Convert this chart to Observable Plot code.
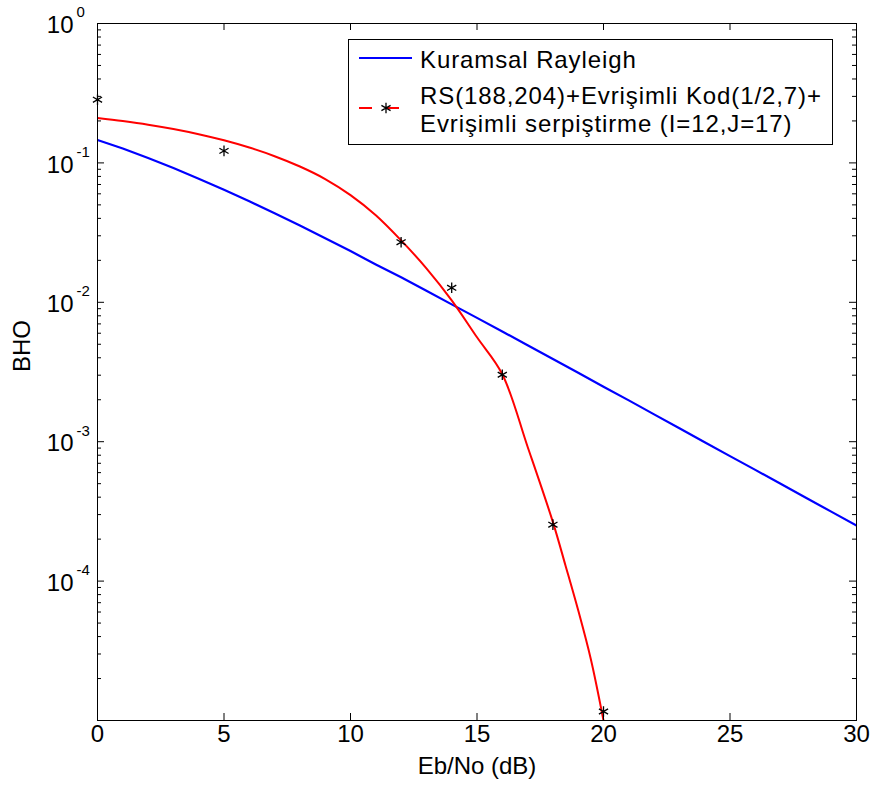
<!DOCTYPE html>
<html>
<head>
<meta charset="utf-8">
<script src="https://cdn.jsdelivr.net/npm/d3@7"></script>
<script src="https://cdn.jsdelivr.net/npm/@observablehq/plot@0.6"></script>
<style>
  html, body { margin: 0; padding: 0; background: #fff; }
  #chart { width: 874px; height: 794px; }
</style>
</head>
<body>
<div id="chart"></div>
<script>
// ---- data ----
const rayleighX = [0,1,2,3,4,5,6,7,8,9,10,11,12,13,14,15,16,17,18,19,20,21,22,23,24,25,26,27,28,29,30];
const rayleighY = [0.146,0.127,0.1085,0.0919,0.0771,0.0642,0.053,0.0435,0.0355,0.0288,0.0233,0.0187,0.0151,0.0121,0.00966,0.00773,0.00617,0.00492,0.00392,0.00312,0.00248,0.00198,0.00157,0.00125,0.000992,0.000788,0.000628,0.000499,0.000396,0.000315,0.00025];

const fitX = [0,1,2,3,4,5,6,7,8,9,10,11,12,13,14,15,16,17,18,18.5,19,19.5,20];
const fitY = [0.21,0.1995,0.188,0.175,0.1607,0.1452,0.1288,0.1117,0.0942,0.0766,0.0587,0.0421,0.0278,0.01754,0.01033,0.00561,0.00305,0.00092,0.000265,0.000129,0.0000617,0.0000275,0.00001];

const simX = [0,5,12,14,16,18,20];
const simY = [0.284,0.122,0.027,0.0127,0.00302,0.000254,0.0000116];

const xTicks = [0,5,10,15,20,25,30];
const yMajor = [1,0.1,0.01,0.001,0.0001,0.00001];
const yLabels = [1,0.1,0.01,0.001,0.0001];
const yExponents = ["0","-1","-2","-3","-4"];
const yMinor = [];
for (const e of [-5,-4,-3,-2,-1]) for (let m = 2; m <= 9; m++) yMinor.push(m * Math.pow(10, e));

const legendLabels = ["Kuramsal Rayleigh", "RS(188,204)+Evrişimli Kod(1/2,7)+", "Evrişimli serpiştirme (I=12,J=17)"];
const xLabel = "Eb/No (dB)";
const yLabel = "BHO";

// ---- tables ----
const rayleigh = rayleighX.map((x, i) => ({x, y: rayleighY[i]}));
const fit = fitX.map((x, i) => ({x, y: fitY[i]}));
const sim = simX.map((x, i) => ({x, y: simY[i]}));
const yLab = yLabels.map((v, i) => ({v, e: yExponents[i]}));

const W = 874, H = 794, mL = 97, mR = 18, mT = 23, mB = 74;
const pw = W - mL - mR, ph = H - mT - mB;
const FONT = "'Liberation Sans', Arial, sans-serif";

const chart = Plot.plot({
  width: W, height: H,
  marginLeft: mL, marginRight: mR, marginTop: mT, marginBottom: mB,
  x: {domain: [0, 30], axis: null},
  y: {type: "log", domain: [1e-5, 1], axis: null},
  style: {fontFamily: FONT, fontSize: "24px", background: "#fff", color: "#000", overflow: "visible"},
  marks: [
    Plot.line(rayleigh, {x: "x", y: "y", stroke: "#0000ff", strokeWidth: 2.2, clip: true}),
    Plot.line(fit, {x: "x", y: "y", stroke: "#ff0000", strokeWidth: 2, curve: "catmull-rom", clip: true}),
    Plot.dot(sim, {x: "x", y: "y", symbol: "asterisk", r: 5, stroke: "#000", strokeWidth: 1.3}),
    Plot.frame({stroke: "#000", strokeWidth: 1}),
    // inward ticks, left and right
    Plot.tickY(yMajor, {y: d => d, insetRight: pw - 7, stroke: "#000"}),
    Plot.tickY(yMajor, {y: d => d, insetLeft: pw - 7, stroke: "#000"}),
    Plot.tickY(yMinor, {y: d => d, insetRight: pw - 4, stroke: "#000"}),
    Plot.tickY(yMinor, {y: d => d, insetLeft: pw - 4, stroke: "#000"}),
    // inward ticks, bottom and top
    Plot.tickX(xTicks, {x: d => d, insetTop: ph - 7, stroke: "#000"}),
    Plot.tickX(xTicks, {x: d => d, insetBottom: ph - 7, stroke: "#000"}),
    // tick labels
    Plot.text(xTicks, {x: d => d, frameAnchor: "bottom", dy: 21, text: d => String(d), fill: "#000"}),
    Plot.text(yLab, {y: "v", frameAnchor: "left", dx: -24, dy: 2, textAnchor: "end", text: () => "10", fill: "#000"}),
    Plot.text(yLab, {y: "v", frameAnchor: "left", dx: -21, dy: -11, textAnchor: "start", text: "e", fontSize: 15, fill: "#000"}),
    // axis titles
    Plot.text([xLabel], {frameAnchor: "bottom", dy: 53, text: d => d, fill: "#000", letterSpacing: "1.1px"}),
    Plot.text([yLabel], {frameAnchor: "left", dx: -75, rotate: -90, text: d => d, fill: "#000", letterSpacing: "0.8px"})
  ]
});

document.getElementById("chart").appendChild(chart);

// ---- legend box (upper right, inside axes) ----
const svg = d3.select(chart);
const lg = svg.append("g").attr("font-family", FONT).attr("font-size", 24)
  .attr("text-anchor", "start").attr("letter-spacing", "0.9px").attr("fill", "#000");
lg.append("rect").attr("x", 348.5).attr("y", 39.5).attr("width", 484).attr("height", 105)
  .attr("fill", "#fff").attr("stroke", "#000").attr("stroke-width", 1);
lg.append("line").attr("x1", 359).attr("x2", 412).attr("y1", 58).attr("y2", 58)
  .attr("stroke", "#0000ff").attr("stroke-width", 2.2);
lg.append("line").attr("x1", 359).attr("x2", 412).attr("y1", 108).attr("y2", 108)
  .attr("stroke", "#ff0000").attr("stroke-width", 2).attr("stroke-dasharray", "13,14");
lg.append("path").attr("d", d3.symbol(d3.symbolAsterisk, Math.PI * 25)())
  .attr("transform", "translate(386,108)").attr("stroke", "#000").attr("stroke-width", 1.3).attr("fill", "none");
lg.append("text").attr("x", 420).attr("y", 68).attr("text-anchor", "start").text(legendLabels[0]);
lg.append("text").attr("x", 420).attr("y", 104).attr("text-anchor", "start").text(legendLabels[1]);
lg.append("text").attr("x", 420).attr("y", 132).attr("text-anchor", "start").text(legendLabels[2]);
</script>
</body>
</html>
